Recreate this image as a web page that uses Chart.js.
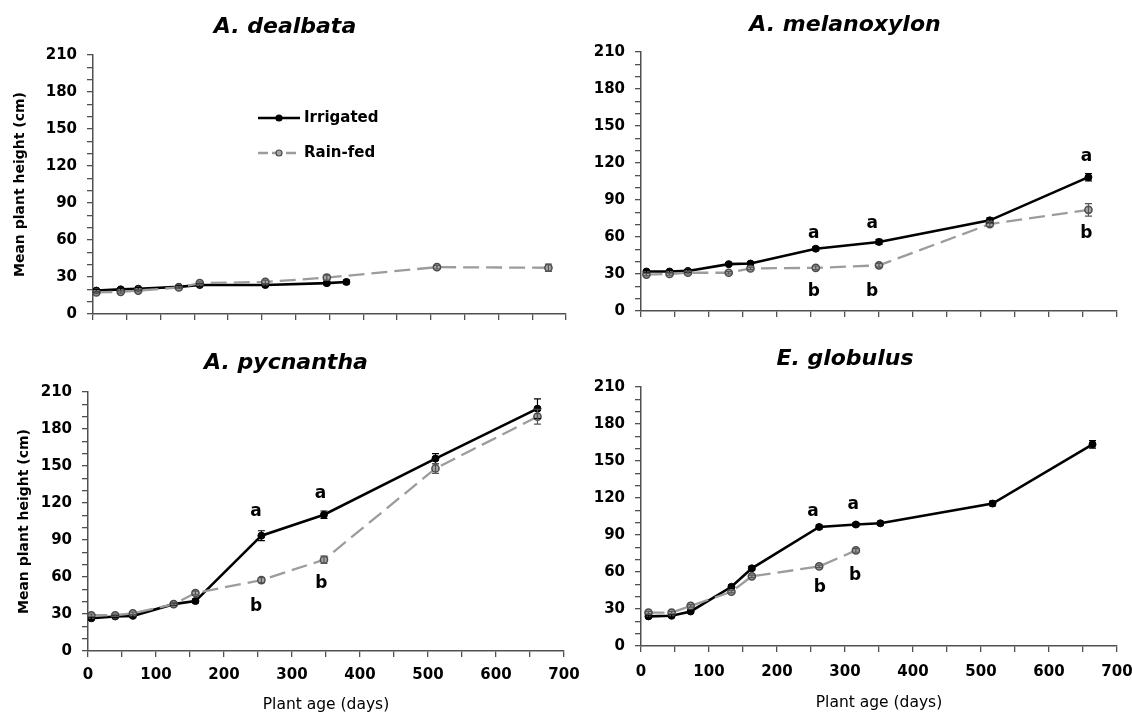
<!DOCTYPE html>
<html>
<head>
<meta charset="utf-8">
<script src="https://cdn.jsdelivr.net/npm/chart.js@4.4.0/dist/chart.umd.min.js"></script>
<style>
html,body{margin:0;padding:0;background:#fff;overflow:hidden;width:1132px;height:713px;position:relative}
canvas{position:absolute}
</style>
</head>
<body>
<canvas id="c1" width="600" height="340" style="left:0;top:0"></canvas>
<canvas id="c2" width="600" height="340" style="left:566px;top:0"></canvas>
<canvas id="c3" width="600" height="390" style="left:0;top:330px"></canvas>
<canvas id="c4" width="600" height="390" style="left:566px;top:330px"></canvas>
<script>
// ---------- DATA ----------
const seriesNames = ['Irrigated', 'Rain-fed'];
const panelTitles = ['A. dealbata', 'A. melanoxylon', 'A. pycnantha', 'E. globulus'];
const yAxisTitle = 'Mean plant height (cm)';
const xAxisTitle = 'Plant age (days)';
const yTickLabels = [0, 30, 60, 90, 120, 150, 180, 210];
const xTickLabels = [0, 100, 200, 300, 400, 500, 600, 700];

// A. dealbata
const dealbataIrrDays = [5, 41, 67, 127, 158, 255, 346, 375];
const dealbataIrr = [19, 20, 20.5, 22, 23.5, 23.5, 25, 26];
const dealbataIrrErr = [1, 1, 1, 1, 1, 1, 1.5, 1.5];
const dealbataRainDays = [5, 41, 67, 127, 158, 255, 346, 509, 674];
const dealbataRain = [17.5, 18, 19, 21.5, 25, 26, 29.5, 38, 37.5];
const dealbataRainErr = [1, 1, 1, 1, 1, 1.5, 2, 1.5, 3];
const dealbataLetters = [];

// A. melanoxylon
const melanoxylonDays = [8, 42, 69, 129, 161, 257, 350, 513, 658];
const melanoxylonIrr = [32, 32, 32.5, 38, 38.5, 50.5, 56, 73.5, 108.5];
const melanoxylonIrrErr = [1, 1, 1, 1, 1, 1.5, 2, 2, 3];
const melanoxylonRain = [29.5, 30, 31, 31, 34.5, 35, 37, 70.5, 82];
const melanoxylonRainErr = [1, 1, 1, 1, 1, 1.5, 1.5, 2, 5];
const melanoxylonLetters = [['a', 254, 63], ['b', 254, 15.7], ['a', 340, 71], ['b', 340, 15.7], ['a', 655, 125], ['b', 655, 63]];

// A. pycnantha
const pycnanthaDays = [5, 40, 66, 126, 158, 255, 347, 511, 661];
const pycnanthaIrr = [26.5, 28, 28.5, 38, 40.5, 93.5, 110.5, 156, 196.5];
const pycnanthaIrrErr = [1, 1, 1, 1, 1.5, 4, 3, 4, 8];
const pycnanthaRain = [29, 29, 30.5, 38, 47, 57.5, 74, 148, 190];
const pycnanthaRainErr = [1, 1, 1, 1.5, 1.5, 2, 3, 4, 6];
const pycnanthaLetters = [['a', 247, 113], ['b', 247, 36], ['a', 342, 128], ['b', 343, 55]];

// E. globulus
const globulusIrrDays = [11, 45, 73, 133, 163, 262, 316, 352, 517, 664];
const globulusIrr = [24, 24.5, 28, 48, 63, 96.5, 98.5, 99.5, 115.5, 163.5];
const globulusIrrErr = [1, 1, 1, 1.5, 1.5, 1.5, 1.5, 1.5, 2, 3];
const globulusRainDays = [11, 45, 73, 133, 163, 262, 316];
const globulusRain = [27, 27, 32.5, 44, 56.5, 64.5, 77.5];
const globulusRainErr = [1, 1, 1, 1, 1, 1, 1.5];
const globulusLetters = [['a', 253, 109], ['b', 263, 47], ['a', 312, 115], ['b', 315, 57]];

// ---------- STYLE ----------
const FONT = 'DejaVu Sans';
const AXIS_COLOR = '#505050';

const errorBarPlugin = {
  id: 'errorBars',
  afterDatasetsDraw(chart) {
    const ctx = chart.ctx;
    const xs = chart.scales.x, ys = chart.scales.y;
    chart.data.datasets.forEach((ds) => {
      if (!ds.errors) return;
      ctx.save();
      ctx.strokeStyle = ds.errColor;
      ctx.lineWidth = 1.2;
      ds.data.forEach((p, i) => {
        const e = ds.errors[i];
        if (!e) return;
        const px = xs.getPixelForValue(p.x);
        const y1 = ys.getPixelForValue(p.y - e), y2 = ys.getPixelForValue(p.y + e);
        ctx.beginPath();
        ctx.moveTo(px, y1); ctx.lineTo(px, y2);
        ctx.moveTo(px - 3.5, y1); ctx.lineTo(px + 3.5, y1);
        ctx.moveTo(px - 3.5, y2); ctx.lineTo(px + 3.5, y2);
        ctx.stroke();
      });
      ctx.restore();
    });
  }
};

function lettersPlugin(items) {
  return {
    id: 'letters',
    afterDatasetsDraw(chart) {
      const ctx = chart.ctx;
      ctx.save();
      ctx.font = 'bold 17px "' + FONT + '"';
      ctx.fillStyle = '#000';
      ctx.textAlign = 'center';
      ctx.textBaseline = 'middle';
      items.forEach(([t, x, y]) => {
        ctx.fillText(t, chart.scales.x.getPixelForValue(x), chart.scales.y.getPixelForValue(y));
      });
      ctx.restore();
    }
  };
}

const legendPlugin = {
  id: 'customLegend',
  afterDraw(chart) {
    const ctx = chart.ctx;
    const rows = [
      {ds: chart.data.datasets[0], y: 118},
      {ds: chart.data.datasets[1], y: 153}
    ];
    ctx.save();
    rows.forEach(r => {
      const ds = r.ds;
      ctx.strokeStyle = ds.borderColor;
      ctx.lineWidth = ds.borderWidth;
      ctx.setLineDash(ds.borderDash ? [10, 4] : []);
      ctx.beginPath(); ctx.moveTo(258, r.y); ctx.lineTo(300, r.y); ctx.stroke();
      ctx.setLineDash([]);
      ctx.beginPath(); ctx.arc(279, r.y, 3, 0, Math.PI * 2);
      ctx.fillStyle = ds.pointBackgroundColor; ctx.fill();
      ctx.lineWidth = 1.2; ctx.strokeStyle = ds.pointBorderColor; ctx.stroke();
      ctx.fillStyle = '#000';
      ctx.font = 'bold 15px "' + FONT + '"';
      ctx.textAlign = 'left'; ctx.textBaseline = 'middle';
      ctx.fillText(ds.label, 304, r.y);
    });
    ctx.restore();
  }
};

function pts(days, vals) { return days.map((d, i) => ({x: d, y: vals[i]})); }

function irrDataset(days, vals, errs) {
  return {
    label: seriesNames[0], data: pts(days, vals), errors: errs, errColor: '#000',
    borderColor: '#000', borderWidth: 2.6, pointRadius: 3.5, pointBackgroundColor: '#000',
    pointBorderColor: '#000', pointBorderWidth: 1, tension: 0, order: 1
  };
}
function rainDataset(days, vals, errs) {
  return {
    label: seriesNames[1], data: pts(days, vals), errors: errs, errColor: '#555',
    borderColor: '#9c9c9c', borderWidth: 2.3, borderDash: [16, 7], pointRadius: 3.6,
    pointBackgroundColor: '#a6a6a6', pointBorderColor: '#4a4a4a', pointBorderWidth: 1.5,
    tension: 0, order: 0
  };
}

function makePanel(id, cfg) {
  const showX = cfg.showX;
  new Chart(document.getElementById(id), {
    type: 'line',
    data: {datasets: cfg.datasets},
    options: {
      responsive: false, animation: false, devicePixelRatio: 1,
      layout: {padding: cfg.padding},
      plugins: {
        legend: {display: false}, tooltip: {enabled: false},
        title: {
          display: true, text: cfg.title, color: '#000',
          font: {family: FONT, size: 22, weight: 'bold', style: 'italic', lineHeight: 1.2},
          padding: {top: cfg.titlePad[0], bottom: cfg.titlePad[1]}
        }
      },
      scales: {
        x: {
          type: 'linear', min: 0, max: 700,
          afterFit(s) { s.height = cfg.xHeight; },
          ticks: {
            display: showX, stepSize: 50, autoSkip: false, maxRotation: 0, maxTicksLimit: 100,
            callback: v => xTickLabels.includes(v) ? String(v) : '',
            color: '#000', font: {family: FONT, size: 15, weight: 'bold'}, padding: cfg.xTickPad
          },
          grid: {drawOnChartArea: false, drawTicks: true, tickLength: 6, color: AXIS_COLOR, lineWidth: 1.3},
          border: {display: true, color: AXIS_COLOR, width: 1.5},
          title: {
            display: showX, text: xAxisTitle, color: '#000',
            font: {family: FONT, size: 15.5, weight: 'normal', lineHeight: 1},
            padding: {top: 0, bottom: cfg.xTitlePad || 0}
          }
        },
        y: {
          type: 'linear', min: 0, max: 210,
          afterFit(s) { s.width = cfg.yWidth; },
          ticks: {
            stepSize: 10, autoSkip: false, maxTicksLimit: 100,
            callback: v => yTickLabels.includes(v) ? String(v) : '',
            color: '#000', font: {family: FONT, size: 15, weight: 'bold'}, padding: 10
          },
          grid: {drawOnChartArea: false, drawTicks: true, tickLength: 6, color: AXIS_COLOR, lineWidth: 1.3},
          border: {display: true, color: AXIS_COLOR, width: 1.5},
          title: {
            display: !!cfg.showYTitle, text: yAxisTitle, color: '#000',
            font: {family: FONT, size: 14, weight: 'bold', lineHeight: 1.2},
            padding: {top: cfg.yTitlePad || 0, bottom: 0}
          }
        }
      }
    },
    plugins: [errorBarPlugin, lettersPlugin(cfg.letters)].concat(cfg.extra || [])
  });
}

makePanel('c1', {
  title: panelTitles[0], showX: false, showYTitle: true, yTitlePad: 7.6,
  padding: {left: 4, right: 34, top: 0, bottom: 6}, yWidth: 89, xHeight: 20,
  titlePad: [13.8, 14.8], xTickPad: 9,
  datasets: [irrDataset(dealbataIrrDays, dealbataIrr, dealbataIrrErr), rainDataset(dealbataRainDays, dealbataRain, dealbataRainErr)],
  letters: dealbataLetters, extra: [legendPlugin]
});
makePanel('c2', {
  title: panelTitles[1], showX: false, showYTitle: false,
  padding: {left: 7, right: 49, top: 0, bottom: 9}, yWidth: 68, xHeight: 20,
  titlePad: [11.8, 13.8], xTickPad: 9,
  datasets: [irrDataset(melanoxylonDays, melanoxylonIrr, melanoxylonIrrErr), rainDataset(melanoxylonDays, melanoxylonRain, melanoxylonRainErr)],
  letters: melanoxylonLetters
});
makePanel('c3', {
  title: panelTitles[2], showX: true, showYTitle: true, yTitlePad: 8.1,
  padding: {left: 8, right: 36, top: 0, bottom: 0}, yWidth: 80, xHeight: 69,
  titlePad: [19.8, 15.8], xTickPad: 9, xTitlePad: 7,
  datasets: [irrDataset(pycnanthaDays, pycnanthaIrr, pycnanthaIrrErr), rainDataset(pycnanthaDays, pycnanthaRain, pycnanthaRainErr)],
  letters: pycnanthaLetters
});
makePanel('c4', {
  title: panelTitles[3], showX: true, showYTitle: false,
  padding: {left: 7, right: 49, top: 0, bottom: 0}, yWidth: 68, xHeight: 74,
  titlePad: [16.1, 14.5], xTickPad: 11, xTitlePad: 9.3,
  datasets: [irrDataset(globulusIrrDays, globulusIrr, globulusIrrErr), rainDataset(globulusRainDays, globulusRain, globulusRainErr)],
  letters: globulusLetters
});
</script>
</body>
</html>
